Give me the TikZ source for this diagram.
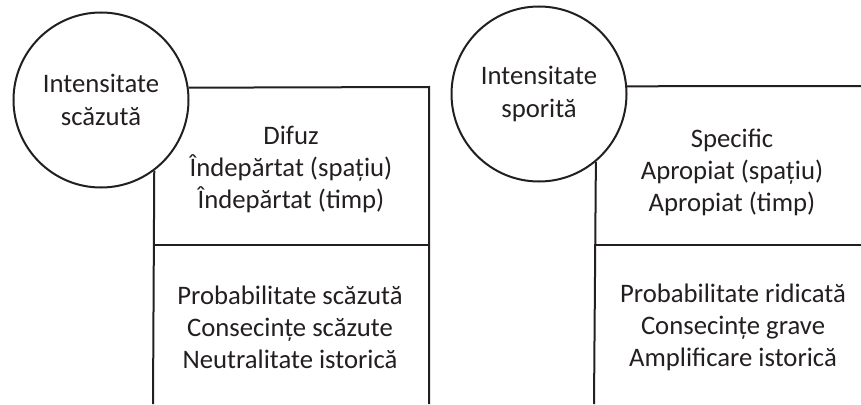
\documentclass[tikz,border=0pt]{standalone}
\usepackage{fontspec}
\setmainfont{Carlito}
\definecolor{ink}{HTML}{231F20}
\begin{document}
\begin{tikzpicture}[x=1pt,y=-1pt,
  rim/.style={draw=ink,line width=2pt},
  bubble/.style={circle,draw=ink,line width=2pt,minimum size=175pt,inner sep=0pt,align=center,text=ink,font=\fontsize{26.7}{33.5}\selectfont},
  label/.style={align=center,text=ink,inner sep=0pt,font=\fontsize{26.7}{32}\selectfont}]
\useasboundingbox (0,0) rectangle (861,404);
% left group
\node[bubble] (c1) at (101,100) {Intensitate\\scăzută};
\draw[rim] (c1.8.5) -- (429,87) coordinate (tr1) -- (429,404) coordinate (br1);
\draw[rim] (c1.-53.8) -- (153,404) coordinate (bl1);
\coordinate (ml1) at (153,245);
\coordinate (mr1) at (429,245);
\draw[rim] (ml1) -- (mr1);
\node[label] (t1) at (291,169) {Difuz\\Îndepărtat (spațiu)\\Îndepărtat (timp)};
\node[label] (b1) at (290,327) {Probabilitate scăzută\\Consecințe scăzute\\Neutralitate istorică};
% right group
\node[bubble] (c2) at (539,94) {Intensitate\\sporită};
\draw[rim] (c2.5.3) -- (861,86) coordinate (tr2);
\draw[rim] (c2.-50.8) -- (594,404) coordinate (bl2);
\coordinate (ml2) at (594,245);
\coordinate (mr2) at (861,245);
\draw[rim] (ml2) -- (mr2);
\node[label] (t2) at (732,172) {Specific\\Apropiat (spațiu)\\Apropiat (timp)};
\node[label] (b2) at (733,327) {Probabilitate ridicată\\Consecințe grave\\Amplificare istorică};
\end{tikzpicture}
\end{document}
